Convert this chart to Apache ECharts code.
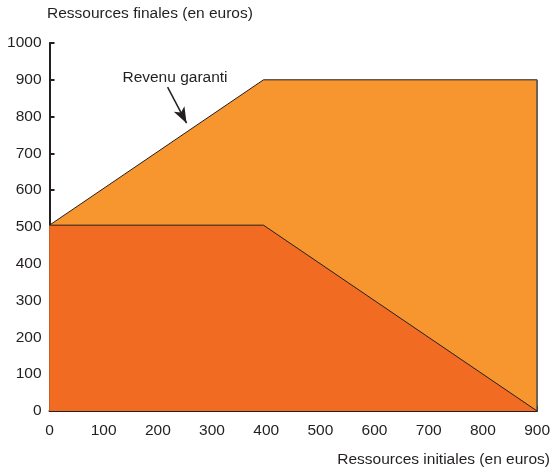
<!DOCTYPE html>
<html><head><meta charset="utf-8">
<script src="https://cdn.jsdelivr.net/npm/echarts@6/dist/echarts.min.js"></script>
<style>html,body{margin:0;padding:0;background:#fff}#c{width:553px;height:473px}</style>
</head><body><div id="c"></div>
<script>
// Ressources initiales (x) and corresponding values
const revenuGaranti = [[0, 505], [395, 900], [900, 900]];
const rso = [[0, 505], [395, 505], [900, 0]];
const rightEdge = [[900, 0], [900, 900]];
const xTicks = [0, 100, 200, 300, 400, 500, 600, 700, 800, 900];
const yTicks = [0, 100, 200, 300, 400, 500, 600, 700, 800, 900, 1000];
const arrowFrom = [218, 880];
const arrowTo = [253, 782];

const chart = echarts.init(document.getElementById('c'));
const font = '"Liberation Sans", Arial, sans-serif';
const fs = 15.5;
chart.setOption({
  animation: false,
  grid: { left: 49.5, right: 15, top: 43, bottom: 62 },
  xAxis: {
    type: 'value', min: xTicks[0], max: xTicks[xTicks.length - 1], interval: 100,
    axisLine: { lineStyle: { color: '#231f20', width: 2 } },
    axisTick: { inside: true, length: 5, lineStyle: { color: '#231f20', width: 2 } },
    axisLabel: { color: '#231f20', fontSize: fs, fontFamily: font, margin: 12, formatter: v => String(v) },
    splitLine: { show: false }
  },
  yAxis: {
    type: 'value', min: yTicks[0], max: yTicks[yTicks.length - 1], interval: 100,
    axisLine: { show: true, lineStyle: { color: '#231f20', width: 2 } },
    axisTick: { show: true, inside: true, length: 5, lineStyle: { color: '#231f20', width: 2 } },
    axisLabel: { color: '#231f20', fontSize: fs, fontFamily: font, margin: 8, formatter: v => String(v) },
    splitLine: { show: false }
  },
  series: [
    {
      type: 'line', data: revenuGaranti, symbol: 'none', z: 2,
      lineStyle: { color: '#231f20', width: 1 },
      areaStyle: { color: '#f7962f', opacity: 1 },
      markLine: {
        silent: true, symbol: ['none', 'arrow'], symbolSize: [9, 16],
        lineStyle: { color: '#231f20', width: 1.5, type: 'solid' },
        label: { show: false },
        data: [[{ coord: arrowFrom }, { coord: arrowTo }]]
      }
    },
    {
      type: 'line', data: rso, symbol: 'none', z: 3,
      lineStyle: { color: '#231f20', width: 1 },
      areaStyle: { color: '#f26b22', opacity: 1 }
    },
    {
      type: 'line', data: rightEdge, symbol: 'none', z: 4,
      lineStyle: { color: '#444', width: 1.5 }
    }
  ],
  graphic: [
    { type: 'text', x: 47, y: 14, style: { text: 'Ressources finales (en euros)', fill: '#231f20', font: fs + 'px ' + font, textAlign: 'left', textVerticalAlign: 'middle' } },
    { type: 'text', x: 550, y: 460, style: { text: 'Ressources initiales (en euros)', fill: '#231f20', font: fs + 'px ' + font, textAlign: 'right', textVerticalAlign: 'middle' } },
    { type: 'text', x: 175, y: 78, style: { text: 'Revenu garanti', fill: '#231f20', font: fs + 'px ' + font, textAlign: 'center', textVerticalAlign: 'middle' } },
    { type: 'text', x: 402, y: 181, style: { text: 'Ressources initiales', fill: '#231f20', font: fs + 'px ' + font, textAlign: 'center', textVerticalAlign: 'middle' } },
    { type: 'text', x: 219, y: 321, style: { text: 'RSO', fill: '#231f20', font: fs + 'px ' + font, textAlign: 'center', textVerticalAlign: 'middle' } }
  ]
});
</script></body></html>
